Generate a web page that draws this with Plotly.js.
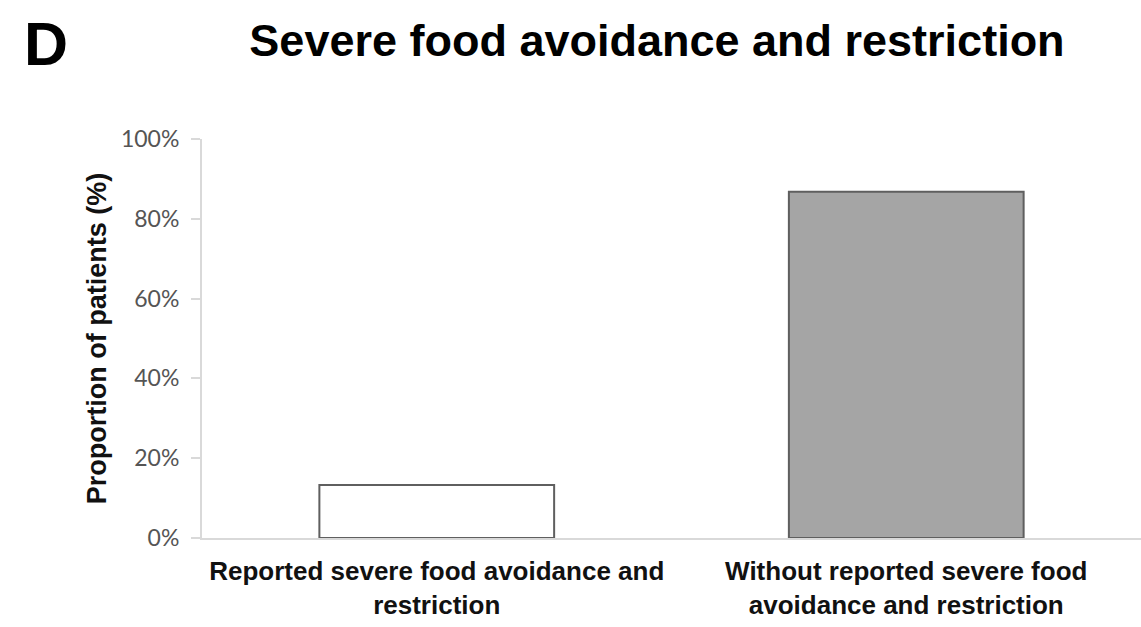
<!DOCTYPE html>
<html>
<head>
<meta charset="utf-8">
<script src="https://cdn.plot.ly/plotly-3.0.1.min.js"></script>
<style>html,body{margin:0;padding:0;background:#fff;}#chart{width:1141px;height:627px;}</style>
</head>
<body>
<div id="chart"></div>
<script>
const categories = ["Reported severe food avoidance and<br>restriction", "Without reported severe food<br>avoidance and restriction"];
const proportions = [13.3, 86.8];
const barColors = ["#ffffff", "#a5a5a5"];
const yTickVals = [0, 20, 40, 60, 80, 100];
const yTickText = ["0%", "20%", "40%", "60%", "80%", "100%"];
const chartTitle = "Severe food avoidance and restriction";
const panelLabel = "D";
const yTitle = "Proportion of patients (%)";

const trace = {
  type: "bar",
  x: categories,
  y: proportions,
  width: 0.5,
  marker: {color: barColors, line: {color: "#5f5f5f", width: 2}},
  hoverinfo: "skip"
};

const layout = {
  width: 1141, height: 627,
  margin: {l: 202, r: 0, t: 139, b: 89, pad: 0},
  paper_bgcolor: "#fff", plot_bgcolor: "#fff",
  showlegend: false,
  title: {
    text: chartTitle,
    font: {family: "Liberation Sans, Arial, sans-serif", size: 45, weight: "bold", color: "#000"},
    x: 657/1141, xanchor: "center", xref: "container",
    y: 1 - 40/627, yanchor: "middle", yref: "container"
  },
  xaxis: {
    type: "category",
    range: [-0.5, 1.5],
    showline: true, linecolor: "#d9d9d9", linewidth: 2,
    showgrid: false, zeroline: false,
    ticks: "", ticklabelstandoff: 9,
    tickfont: {family: "Liberation Sans, Arial, sans-serif", size: 26, weight: "bold", color: "#111"}
  },
  yaxis: {
    range: [0, 100],
    tickvals: yTickVals, ticktext: yTickText,
    showline: true, linecolor: "#d9d9d9", linewidth: 2,
    showgrid: false, zeroline: false,
    ticks: "outside", ticklen: 9, tickwidth: 2, tickcolor: "#d9d9d9",
    ticklabelstandoff: 7,
    tickfont: {family: "Lato, Carlito, sans-serif", size: 23, color: "#555555"},
    title: {
      text: yTitle, standoff: 6,
      font: {family: "Liberation Sans, Arial, sans-serif", size: 27, weight: "bold", color: "#111"}
    }
  },
  annotations: [{
    text: panelLabel, xref: "paper", yref: "paper",
    x: (22 - 202)/939, xanchor: "left",
    y: 1 + (139 - 44)/399, yanchor: "middle",
    showarrow: false,
    font: {family: "Liberation Sans, Arial, sans-serif", size: 61, weight: "bold", color: "#000"}
  }]
};

Plotly.newPlot("chart", [trace], layout, {staticPlot: true, displayModeBar: false});
</script>
</body>
</html>
